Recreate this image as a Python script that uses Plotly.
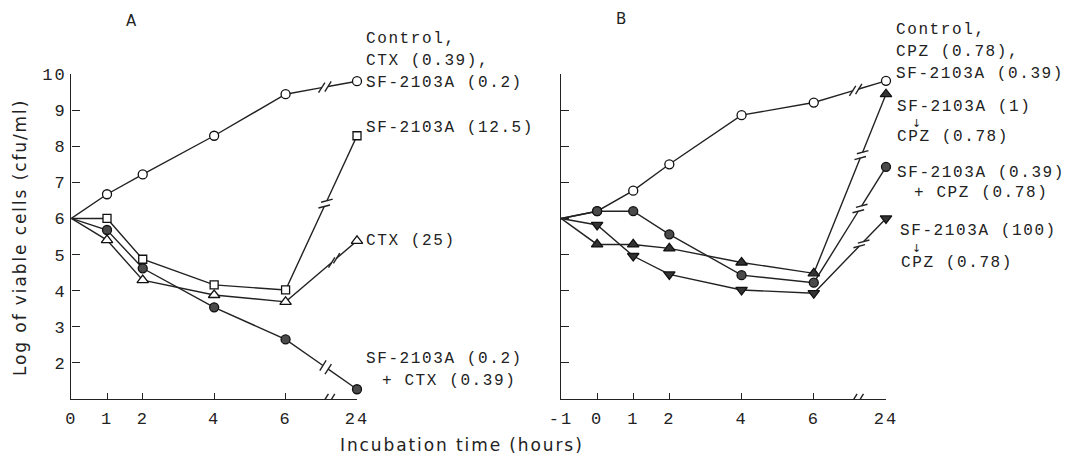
import math
import plotly.graph_objects as go

# page body has an 8 px margin: the figure is drawn from (8, 8) of the window
OFF = 8
FW, FH = 1062, 448

# ---------------- data ----------------
hours_A = [0, 1, 2, 4, 6, 24]
hours_B = [-1, 0, 1, 2, 4, 6, 24]
y_ticks = [2, 3, 4, 5, 6, 7, 8, 9, 10]

# Panel A (log cfu/ml)
control_A = [6.0, 6.67, 7.22, 8.29, 9.44, 9.80]
sf125_A = [6.0, 6.00, 4.87, 4.16, 4.02, 8.29]
ctx25_A = [6.0, 5.40, 4.29, 3.88, 3.69, 5.38]
combo_A = [6.0, 5.68, 4.62, 3.54, 2.65, 1.27]

# Panel B (log cfu/ml)
control_B = [6.0, 6.20, 6.77, 7.50, 8.86, 9.21, 9.81]
sf1_cpz_B = [6.0, 5.28, 5.28, 5.17, 4.78, 4.48, 9.44]
combo_B = [6.0, 6.20, 6.20, 5.56, 4.43, 4.22, 7.43]
sf100_cpz_B = [6.0, 5.82, 4.96, 4.45, 4.02, 3.93, 6.00]

# ---------------- style / geometry (window pixels) ----------------
INK = "#222222"
MONO = "Liberation Mono, DejaVu Sans Mono, monospace"
SANS = "DejaVu Sans, Arial, sans-serif"
LW = 1.4

X_PX = {"A": (71.3, 357.0), "B": (561.0, 886.0)}
X_RANGE = {"A": (0, 8), "B": (-1, 8)}
Y_PX = (399.0, 74.0)
Y_RANGE = (1, 10)
AX = {"A": ("x", "y"), "B": ("x2", "y2")}


def pxx(px):
    return (px - OFF) / FW


def pxy(py):
    return 1 - (py - OFF) / FH


def hpos(h):
    # broken time axis: 24 h is drawn two units after 6 h
    return h if h <= 6 else 8


def to_px(panel, x, y):
    x0, x1 = X_PX[panel]
    r0, r1 = X_RANGE[panel]
    px = x0 + (x - r0) / (r1 - r0) * (x1 - x0)
    py = Y_PX[0] + (y - Y_RANGE[0]) / (Y_RANGE[1] - Y_RANGE[0]) * (Y_PX[1] - Y_PX[0])
    return px, py


def to_data(panel, px, py):
    x0, x1 = X_PX[panel]
    r0, r1 = X_RANGE[panel]
    x = r0 + (px - x0) / (x1 - x0) * (r1 - r0)
    y = Y_RANGE[0] + (py - Y_PX[0]) / (Y_PX[1] - Y_PX[0]) * (Y_RANGE[1] - Y_RANGE[0])
    return x, y


def break_geometry(panel, p_from, p_to, frac, gap=3.2, mark_len=12.0, angle=None):
    a = to_px(panel, *p_from)
    b = to_px(panel, *p_to)
    dx, dy = b[0] - a[0], b[1] - a[1]
    L = math.hypot(dx, dy)
    ux, uy = dx / L, dy / L
    cx, cy = a[0] + frac * dx, a[1] + frac * dy
    alpha = math.degrees(math.atan2(-dy, dx))
    if angle is None:
        angle = 15 if alpha > 43 else 58
    vx, vy = math.cos(math.radians(angle)), -math.sin(math.radians(angle))
    g1 = (cx - gap * ux, cy - gap * uy)
    g2 = (cx + gap * ux, cy + gap * uy)
    marks_x, marks_y = [], []
    for g in (g1, g2):
        e1 = to_data(panel, g[0] - vx * mark_len / 2, g[1] - vy * mark_len / 2)
        e2 = to_data(panel, g[0] + vx * mark_len / 2, g[1] + vy * mark_len / 2)
        marks_x += [e1[0], e2[0], None]
        marks_y += [e1[1], e2[1], None]
    return to_data(panel, *g1), to_data(panel, *g2), marks_x, marks_y


series = [
    dict(panel="A", hours=hours_A, values=control_A, symbol="circle", fill="white", size=9, frac=0.55),
    dict(panel="A", hours=hours_A, values=sf125_A, symbol="square", fill="white", size=8, frac=0.56),
    dict(panel="A", hours=hours_A, values=ctx25_A, symbol="triangle-up", fill="white", size=10, frac=0.68),
    dict(panel="A", hours=hours_A, values=combo_A, symbol="circle", fill="#4a4a4a", size=9, frac=0.56),
    dict(panel="B", hours=hours_B, values=control_B, symbol="circle", fill="white", size=9, frac=0.58),
    dict(panel="B", hours=hours_B, values=sf1_cpz_B, symbol="triangle-up", fill="#333333", size=10, frac=0.66),
    dict(panel="B", hours=hours_B, values=sf100_cpz_B, symbol="triangle-down", fill="#333333", size=10, frac=0.66),
    dict(panel="B", hours=hours_B, values=combo_B, symbol="circle", fill="#4a4a4a", size=9, frac=0.64),
]

fig = go.Figure()

# lines with break marks
for s in series:
    xa, ya = AX[s["panel"]]
    xs = [hpos(h) for h in s["hours"]]
    ys = s["values"]
    g1, g2, mx, my = break_geometry(s["panel"], (xs[-2], ys[-2]), (xs[-1], ys[-1]), s["frac"])
    fig.add_trace(go.Scatter(
        x=xs[:-1] + [g1[0], None, g2[0], xs[-1]],
        y=ys[:-1] + [g1[1], None, g2[1], ys[-1]],
        mode="lines", line=dict(color=INK, width=LW), xaxis=xa, yaxis=ya,
        cliponaxis=False, hoverinfo="skip", connectgaps=False))
    fig.add_trace(go.Scatter(
        x=mx, y=my, mode="lines", line=dict(color=INK, width=LW), xaxis=xa, yaxis=ya,
        cliponaxis=False, hoverinfo="skip", connectgaps=False))

# x-axis breaks
for panel in ("A", "B"):
    xa, ya = AX[panel]
    g1, g2, mx, my = break_geometry(panel, (6, Y_RANGE[0]), (8, Y_RANGE[0]), 0.6, gap=3.2, angle=58)
    fig.add_trace(go.Scatter(
        x=[g1[0], g2[0]], y=[g1[1], g2[1]], mode="lines",
        line=dict(color="white", width=4), xaxis=xa, yaxis=ya, cliponaxis=False, hoverinfo="skip"))
    fig.add_trace(go.Scatter(
        x=mx, y=my, mode="lines", line=dict(color=INK, width=LW), xaxis=xa, yaxis=ya,
        cliponaxis=False, hoverinfo="skip", connectgaps=False))

# markers
for s in series:
    xa, ya = AX[s["panel"]]
    xs = [hpos(h) for h in s["hours"]]
    fig.add_trace(go.Scatter(
        x=xs[1:], y=s["values"][1:], mode="markers",
        marker=dict(symbol=s["symbol"], size=s["size"], color=s["fill"],
                    line=dict(color="#111111", width=1.3)),
        xaxis=xa, yaxis=ya, cliponaxis=False, hoverinfo="skip"))


def sp(t, ls=1.6):
    return f'<span style="letter-spacing:{ls}px">{t}</span>'


tickfont = dict(family=MONO, size=17, color=INK)
common_x = dict(showline=True, linecolor=INK, linewidth=LW, ticks="inside", ticklen=6,
                tickwidth=LW, tickcolor=INK, showgrid=False, zeroline=False, automargin=False,
                layer="below traces", tickfont=tickfont, ticklabelstandoff=3, fixedrange=True)
common_y = dict(showline=True, linecolor=INK, linewidth=LW, ticks="inside", ticklen=8,
                tickwidth=LW, tickcolor=INK, showgrid=False, zeroline=False, automargin=False,
                layer="below traces", tickfont=tickfont, fixedrange=True,
                range=list(Y_RANGE), tickvals=y_ticks,
                domain=[pxy(Y_PX[0]), pxy(Y_PX[1])])

fig.update_layout(
    template="none",
    width=FW, height=FH, margin=dict(l=0, r=0, t=0, b=0, pad=0), autosize=False,
    plot_bgcolor="white", paper_bgcolor="white", showlegend=False,
    xaxis=dict(common_x, domain=[pxx(X_PX["A"][0]), pxx(X_PX["A"][1])], range=list(X_RANGE["A"]),
               anchor="y", tickvals=[hpos(h) for h in hours_A],
               ticktext=[sp(str(h), 2.0) for h in hours_A]),
    yaxis=dict(common_y, anchor="x", ticktext=[sp(str(v), 2.0) for v in y_ticks],
               ticklabelstandoff=0),
    xaxis2=dict(common_x, domain=[pxx(X_PX["B"][0]), pxx(X_PX["B"][1])], range=list(X_RANGE["B"]),
                anchor="y2", tickvals=[hpos(h) for h in hours_B],
                ticktext=[sp(str(h), 2.0) for h in hours_B]),
    yaxis2=dict(common_y, anchor="x2", showticklabels=False),
)

labels = [
    # (text, x_px, y_px, size, anchor)
    ("Control,", 364, 39, 16, "left"),
    ("CTX (0.39),", 364, 61, 16, "left"),
    ("SF-2103A (0.2)", 364, 83, 16, "left"),
    ("SF-2103A (12.5)", 364, 128, 16, "left"),
    ("CTX (25)", 364, 241, 16, "left"),
    ("SF-2103A (0.2)", 364, 359, 16, "left"),
    ("+ CTX (0.39)", 380, 381, 16, "left"),
    ("Control,", 894, 30, 16, "left"),
    ("CPZ (0.78),", 894, 52, 16, "left"),
    ("SF-2103A (0.39)", 894, 74, 16, "left"),
    ("SF-2103A (1)", 895, 107, 16, "left"),
    ("\u2193", 916, 123, 11, "center"),
    ("CPZ (0.78)", 895, 137, 16, "left"),
    ("SF-2103A (0.39)", 895, 173, 16, "left"),
    ("+ CPZ (0.78)", 912, 193, 16, "left"),
    ("SF-2103A (100)", 898, 231, 16, "left"),
    ("\u2193", 916, 248, 11, "center"),
    ("CPZ (0.78)", 899, 263, 16, "left"),
]
for text, xp, yp, size, anchor in labels:
    fig.add_annotation(
        text=sp(text) if size > 12 else text, x=pxx(xp), y=pxy(yp), xref="paper", yref="paper",
        xanchor=anchor, yanchor="middle", showarrow=False,
        font=dict(family=MONO if size > 12 else SANS, size=size, color=INK))

# panel letters
for text, xp, yp in [("A", 131, 21), ("B", 621, 19)]:
    fig.add_annotation(text=text, x=pxx(xp), y=pxy(yp), xref="paper", yref="paper",
                       xanchor="center", yanchor="middle", showarrow=False,
                       font=dict(family=SANS, size=15, color=INK))

# axis titles
fig.add_annotation(text=sp("Log of viable cells (cfu/ml)", 1.9), x=pxx(20), y=pxy(238),
                   xref="paper", yref="paper", textangle=-90, showarrow=False,
                   xanchor="center", yanchor="middle",
                   font=dict(family=SANS, size=17, color=INK))
fig.add_annotation(text=sp("Incubation time (hours)", 1.9), x=pxx(462), y=pxy(445),
                   xref="paper", yref="paper", showarrow=False,
                   xanchor="center", yanchor="middle",
                   font=dict(family=SANS, size=17, color=INK))

fig.write_html("out.html", config={"displayModeBar": False})
